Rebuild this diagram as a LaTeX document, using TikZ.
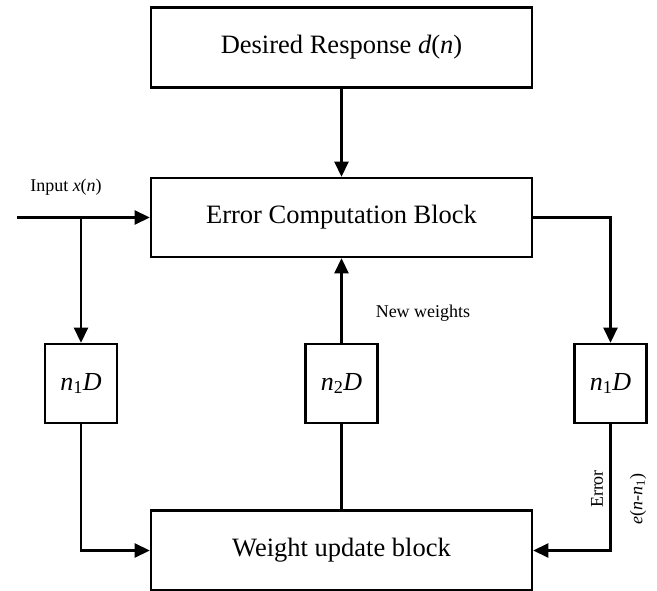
\documentclass[tikz,border=0pt]{standalone}
\usepackage{fontspec}
\setmainfont{Liberation Serif}
\usetikzlibrary{arrows.meta,calc}

\newcommand{\bigtxt}{\fontsize{26.5}{30}\selectfont}
\newcommand{\delaytxt}{\fontsize{26}{30}\selectfont}
\newcommand{\smalltxt}{\fontsize{18}{21}\selectfont}

\tikzset{
  blockbox/.style={draw, line width=2.6pt, minimum width=381pt, minimum height=80pt,
    inner sep=0pt, font=\bigtxt},
  delaybox/.style={draw, line width=2.6pt, minimum width=72pt, minimum height=79pt,
    inner sep=0pt, font=\delaytxt},
  wire/.style={line width=2.6pt},
  arrowwire/.style={wire, -{Triangle[length=15pt,width=14pt]}},
  lbl/.style={font=\smalltxt, inner sep=0pt}
}

\begin{document}
\begin{tikzpicture}[x=1pt,y=-1pt]
  \useasboundingbox (0,0) rectangle (657,591);

  % main blocks
  \node[blockbox] (des) at (341.5,47.5) {Desired Response \textit{d}(\textit{n})};
  \node[blockbox, minimum height=79pt] (err) at (341.5,217.5) {Error Computation Block};
  \node[blockbox] (wu) at (341.5,550.5) {Weight update block};

  % delay elements
  \node[delaybox] (d1) at (81,383.5) {\textit{n}\textsubscript{1}\textit{D}};
  \node[delaybox] (d2) at (341.5,383.5) {\textit{n}\textsubscript{2}\textit{D}};
  \node[delaybox] (d3) at (610.5,383.5) {\textit{n}\textsubscript{1}\textit{D}};

  % input
  \coordinate (in) at (17,217.5);
  \coordinate (br) at (d1.north |- in);

  % connectors
  \draw[arrowwire] (des.south) -- (err.north);
  \draw[arrowwire] (in) -- (err.west);
  \draw[arrowwire] (br) -- (d1.north);
  \draw[arrowwire] (d1.south) |- (wu.west);
  \draw[wire] (wu.north) -- (d2.south);
  \draw[arrowwire] (d2.north) -- (err.south);
  \draw[arrowwire] (err.east) -| (d3.north);
  \draw[arrowwire] (d3.south) |- (wu.east);

  % labels
  \node[lbl] (inlbl) at (66,187) {Input \textit{x}(\textit{n})};
  \node[lbl] (nw) at (423,313) {New weights};
  \node[lbl, rotate=90] (errlbl) at (597,489) {Error};
  \node[lbl, rotate=90] (elbl) at (638,499) {\textit{e}(\textit{n}-\textit{n}\textsubscript{1})};
\end{tikzpicture}
\end{document}
